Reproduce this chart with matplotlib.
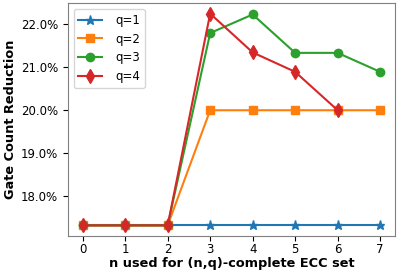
import matplotlib
matplotlib.use('Agg')
import matplotlib.pyplot as plt
from matplotlib.ticker import FuncFormatter

##################################################
# data
##################################################

n_vals = [0, 1, 2, 3, 4, 5, 6, 7]
q1 = [17.33, 17.33, 17.33, 17.33, 17.33, 17.33, 17.33, 17.33]
q2 = [17.33, 17.33, 17.33, 20.0, 20.0, 20.0, 20.0, 20.0]
q3 = [17.33, 17.33, 17.33, 21.79, 22.22, 21.33, 21.33, 20.89]
q4 = [17.33, 17.33, 17.33, 22.24, 21.34, 20.89, 20.0]
labels = ['q=1', 'q=2', 'q=3', 'q=4']

##################################################
# plot
##################################################

plt.rcParams['font.size'] = 8.5

fig, ax = plt.subplots(figsize=(3.99, 2.76), dpi=100)
fig.subplots_adjust(left=0.170, right=0.990, top=0.989, bottom=0.145)

ax.plot(n_vals, q1, marker='*', label=labels[0], markersize=6.5)
ax.plot(n_vals, q2, marker='s', label=labels[1], markersize=6)
ax.plot(n_vals, q3, marker='o', label=labels[2], markersize=6)
ax.plot(n_vals[:len(q4)], q4, marker='d', label=labels[3], markersize=7)

ax.yaxis.set_major_formatter(FuncFormatter(lambda v, p: f'{v:.1f}%'))
ax.set_xticks(n_vals)
ax.tick_params(axis='x', pad=1.5)
ax.set_xlabel('n used for (n,q)-complete ECC set', fontweight='bold', fontsize=9.3, labelpad=1.0)
ax.set_ylabel('Gate Count Reduction', fontweight='bold', fontsize=9.3, labelpad=3.0)

for s in ax.spines.values():
    s.set_color('#808080')

ax.legend(loc='upper left', handletextpad=1.1)

plt.savefig('out.png', dpi=100)
